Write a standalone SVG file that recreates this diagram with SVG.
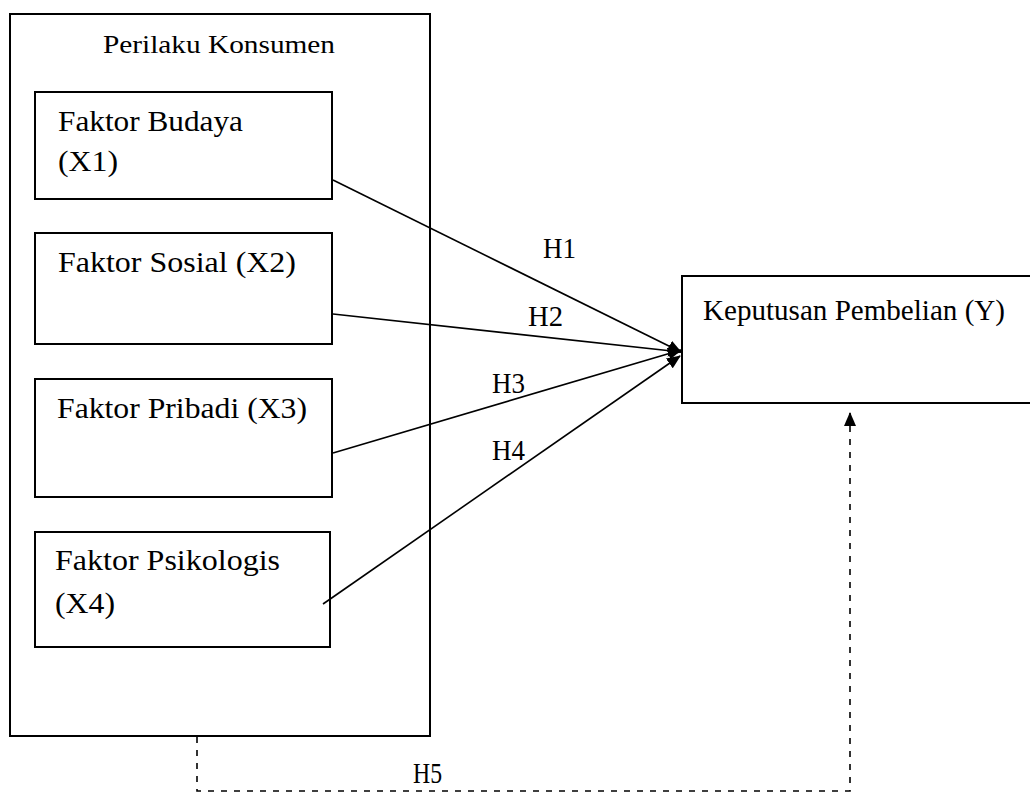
<svg xmlns="http://www.w3.org/2000/svg" width="1030" height="795" viewBox="0 0 1030 795">
<style>
.box{fill:#fff;stroke:#000;stroke-width:2}
.t{font-family:"Liberation Serif","Times New Roman",serif;font-size:29px;fill:#000}
.ts{font-family:"Liberation Serif","Times New Roman",serif;font-size:25px;fill:#000}
.ln{stroke:#000;stroke-width:1.6;fill:none}
.dash{stroke:#000;stroke-width:1.6;fill:none;stroke-dasharray:6 7}
</style>
<defs>
<marker id="ah" markerUnits="userSpaceOnUse" markerWidth="14" markerHeight="12" refX="13" refY="6" orient="auto">
<path d="M0,0 L14,6 L0,12 Z" fill="#000"/>
</marker>
</defs>
<g id="perilaku">
<rect class="box" x="10" y="14" width="420" height="722"/>
<text class="ts" x="103" y="53" textLength="232" lengthAdjust="spacingAndGlyphs">Perilaku Konsumen</text>
</g>
<g id="x1">
<rect class="box" x="35" y="92" width="297" height="107"/>
<text class="t" x="58" y="131" textLength="185" lengthAdjust="spacingAndGlyphs">Faktor Budaya</text>
<text class="t" x="58" y="171" textLength="60" lengthAdjust="spacingAndGlyphs">(X1)</text>
</g>
<g id="x2">
<rect class="box" x="35" y="233" width="297" height="111"/>
<text class="t" x="58" y="272" textLength="238" lengthAdjust="spacingAndGlyphs">Faktor Sosial (X2)</text>
</g>
<g id="x3">
<rect class="box" x="35" y="379" width="297" height="118"/>
<text class="t" x="57" y="418" textLength="250" lengthAdjust="spacingAndGlyphs">Faktor Pribadi (X3)</text>
</g>
<g id="x4">
<rect class="box" x="35" y="532" width="295" height="115"/>
<text class="t" x="55" y="570" textLength="225" lengthAdjust="spacingAndGlyphs">Faktor Psikologis</text>
<text class="t" x="55" y="613" textLength="60" lengthAdjust="spacingAndGlyphs">(X4)</text>
</g>
<g id="y">
<rect class="box" x="682" y="276" width="360" height="127"/>
<text class="t" x="703" y="320" textLength="302" lengthAdjust="spacingAndGlyphs">Keputusan Pembelian (Y)</text>
</g>
<g id="connectors">
<line class="ln" x1="333" y1="180" x2="681" y2="352" marker-end="url(#ah)"/>
<line class="ln" x1="333" y1="314" x2="681" y2="352" marker-end="url(#ah)"/>
<line class="ln" x1="333" y1="453" x2="681" y2="350" marker-end="url(#ah)"/>
<line class="ln" x1="323" y1="604" x2="680" y2="356" marker-end="url(#ah)"/>
<polyline class="dash" points="197,737 197,791 850,791 850,413" marker-end="url(#ah)"/>
<text class="t" x="543" y="258" textLength="33" lengthAdjust="spacingAndGlyphs">H1</text>
<text class="t" x="528" y="326" textLength="35" lengthAdjust="spacingAndGlyphs">H2</text>
<text class="t" x="492" y="393" textLength="33" lengthAdjust="spacingAndGlyphs">H3</text>
<text class="t" x="492" y="460" textLength="33" lengthAdjust="spacingAndGlyphs">H4</text>
<text class="t" x="413" y="783" textLength="29" lengthAdjust="spacingAndGlyphs">H5</text>
</g>
</svg>
